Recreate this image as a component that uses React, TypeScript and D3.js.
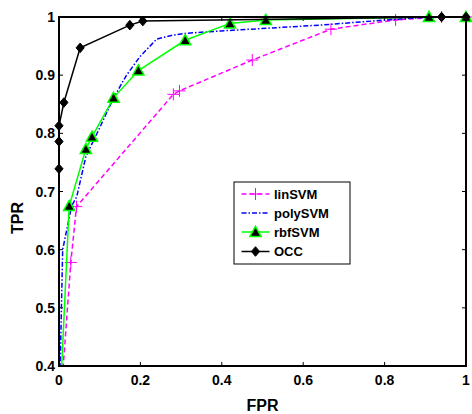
import React from "react";
import * as d3 from "d3";

const xTicks = [0, 0.2, 0.4, 0.6, 0.8, 1];
const xTickLabels = ["0", "0.2", "0.4", "0.6", "0.8", "1"];
const yTicks = [0.4, 0.5, 0.6, 0.7, 0.8, 0.9, 1];
const yTickLabels = ["0.4", "0.5", "0.6", "0.7", "0.8", "0.9", "1"];

const linFPR = [0, 0.029, 0.043, 0.281, 0.296, 0.475, 0.668, 0.827, 0.94, 1];
const linTPR = [0.3, 0.578, 0.674, 0.867, 0.873, 0.926, 0.979, 0.995, 1, 1];

const polyFPR = [0, 0.009, 0.031, 0.0435, 0.066, 0.101, 0.134, 0.166, 0.199, 0.24, 0.281, 0.314, 0.396, 0.641, 0.805, 0.91, 1];
const polyTPR = [0.3, 0.6, 0.675, 0.691, 0.76, 0.811, 0.861, 0.9, 0.932, 0.962, 0.969, 0.972, 0.976, 0.986, 0.995, 1, 1];

const rbfFPR = [0, 0.025, 0.066, 0.081, 0.134, 0.195, 0.31, 0.42, 0.508, 0.909, 1];
const rbfTPR = [0.3, 0.675, 0.773, 0.794, 0.861, 0.908, 0.96, 0.989, 0.995, 1, 1];

const occFPR = [0, 0, 0, 0.012, 0.052, 0.174, 0.206, 0.94, 1];
const occTPR = [0.739, 0.786, 0.813, 0.853, 0.947, 0.986, 0.993, 1, 1];

const seriesNames = ["linSVM", "polySVM", "rbfSVM", "OCC"];

const W = 472, H = 414;
const L = 59, R = 466, T = 17, B = 366;
const FONT = "'Liberation Sans', Arial, Helvetica, sans-serif";

type Style = { color: string; dash?: string; marker: "plus" | "none" | "tri" | "diamond" };
const styles: Style[] = [
  { color: "#ff00ff", dash: "5,3", marker: "plus" },
  { color: "#0000ff", dash: "5,2,1.5,2", marker: "none" },
  { color: "#00ff00", marker: "tri" },
  { color: "#000000", marker: "diamond" },
];

function Marker({ kind, x, y, color }: { kind: string; x: number; y: number; color: string }) {
  if (kind === "plus") {
    const s = 6;
    return (
      <path d={`M${x - s},${y}H${x + s}M${x},${y - s}V${y + s}`} stroke={color} strokeWidth={1} fill="none" />
    );
  }
  if (kind === "tri") {
    const s = 5.6;
    return (
      <path
        d={`M${x},${y - s}L${x + s},${y + s * 0.8}L${x - s},${y + s * 0.8}Z`}
        fill="#000"
        stroke={color}
        strokeWidth={1.5}
      />
    );
  }
  if (kind === "diamond") {
    const s = 4.8;
    return <path d={`M${x},${y - s}L${x + s * 0.85},${y}L${x},${y + s}L${x - s * 0.85},${y}Z`} fill="#000" stroke="#000" strokeWidth={1} />;
  }
  return null;
}

export default function App() {
  const x = d3.scaleLinear().domain([0, 1]).range([L, R]);
  const y = d3.scaleLinear().domain([0.4, 1]).range([B, T]);
  const data = [
    [linFPR, linTPR],
    [polyFPR, polyTPR],
    [rbfFPR, rbfTPR],
    [occFPR, occTPR],
  ];
  const line = d3
    .line<[number, number]>()
    .x((d) => x(d[0]))
    .y((d) => y(d[1]));

  const tickLen = 4;
  const legX = 234, legY = 182, legW = 116, legH = 82;
  const legRows = [194, 213, 232, 251.5];

  return (
    <svg width={W} height={H} style={{ position: "absolute", left: 0, top: 0, background: "#fff" }}>
      <defs>
        <clipPath id="plotclip">
          <rect x={L} y={T} width={R - L} height={B - T} />
        </clipPath>
      </defs>
      <rect x={0} y={0} width={W} height={H} fill="#fff" />
      {xTicks.map((t, i) => (
        <g key={"xt" + i}>
          <line x1={x(t)} x2={x(t)} y1={B} y2={B - tickLen} stroke="#000" strokeWidth={1} />
          <line x1={x(t)} x2={x(t)} y1={T} y2={T + tickLen} stroke="#000" strokeWidth={1} />
          <text x={x(t)} y={385} textAnchor="middle" fontFamily={FONT} fontWeight="bold" fontSize={14}>
            {xTickLabels[i]}
          </text>
        </g>
      ))}
      {yTicks.map((t, i) => (
        <g key={"yt" + i}>
          <line x1={L} x2={L + tickLen} y1={y(t)} y2={y(t)} stroke="#000" strokeWidth={1} />
          <line x1={R} x2={R - tickLen} y1={y(t)} y2={y(t)} stroke="#000" strokeWidth={1} />
          <text x={55} y={y(t) + 5} textAnchor="end" fontFamily={FONT} fontWeight="bold" fontSize={14}>
            {yTickLabels[i]}
          </text>
        </g>
      ))}
      {data.map((d, si) => {
        const pts: [number, number][] = d[0].map((v, j) => [v, d[1][j]]);
        const st = styles[si];
        return (
          <g key={"s" + si}>
            <path
              d={line(pts) || ""}
              fill="none"
              stroke={st.color}
              strokeWidth={1.5}
              strokeDasharray={st.dash}
              clipPath="url(#plotclip)"
            />
            {pts
              .filter((p) => p[1] >= 0.4 && p[1] <= 1 && p[0] >= 0 && p[0] <= 1)
              .map((p, j) => (
                <Marker key={j} kind={st.marker} x={x(p[0])} y={y(p[1])} color={st.color} />
              ))}
          </g>
        );
      })}
      <rect x={L} y={T} width={R - L} height={B - T} fill="none" stroke="#000" strokeWidth={2} />
      <text x={(L + R) / 2} y={411} textAnchor="middle" fontFamily={FONT} fontWeight="bold" fontSize={16}>
        FPR
      </text>
      <text
        transform={`translate(23,218) rotate(-90)`}
        textAnchor="middle"
        fontFamily={FONT}
        fontWeight="bold"
        fontSize={16}
      >
        TPR
      </text>
      <rect x={legX} y={legY} width={legW} height={legH} fill="#fff" stroke="#000" strokeWidth={1} />
      {seriesNames.map((n, i) => {
        const st = styles[i];
        const ly = legRows[i];
        return (
          <g key={"lg" + i}>
            <line x1={241.5} x2={269.5} y1={ly} y2={ly} stroke={st.color} strokeWidth={1.5} strokeDasharray={st.dash} />
            <Marker kind={st.marker} x={255.5} y={ly} color={st.color} />
            <text x={274} y={ly + 4.7} fontFamily={FONT} fontWeight="bold" fontSize={13}>
              {n}
            </text>
          </g>
        );
      })}
    </svg>
  );
}
